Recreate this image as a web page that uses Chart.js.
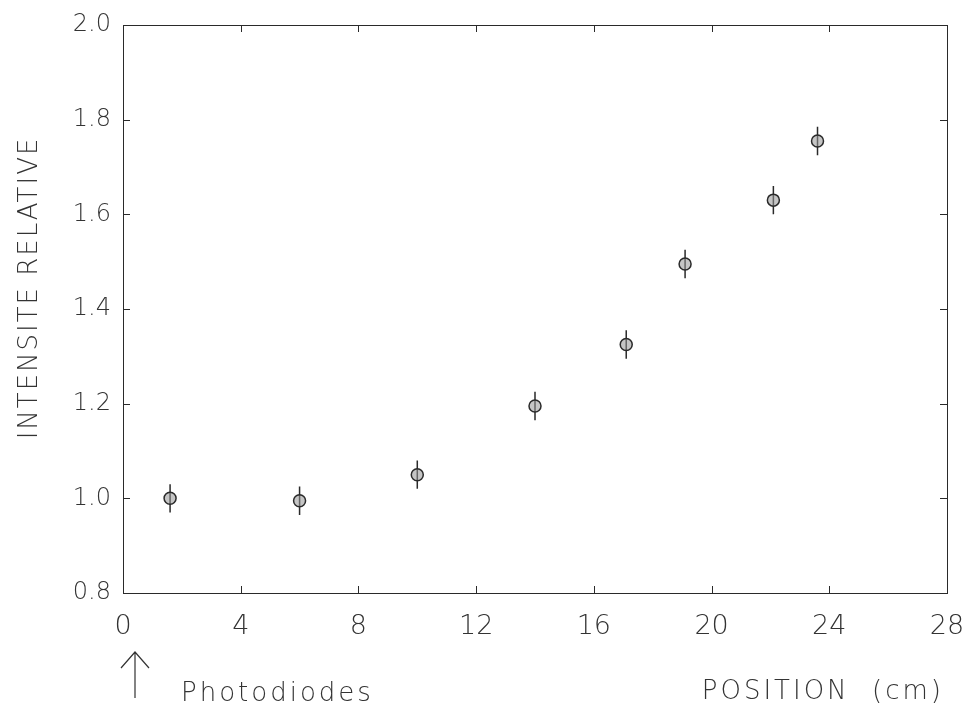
<!DOCTYPE html>
<html>
<head>
<meta charset="utf-8">
<script src="https://cdn.jsdelivr.net/npm/chart.js@4.4.1/dist/chart.umd.min.js"></script>
<style>
html,body{margin:0;padding:0;background:#fff;}
#wrap{width:969px;height:720px;position:relative;}
</style>
</head>
<body>
<div id="wrap"><canvas id="c" width="969" height="720"></canvas></div>
<script>
// Data
const positions = [1.6, 6.0, 10.0, 14.0, 17.1, 19.1, 22.1, 23.6];
const intensities = [1.0, 0.995, 1.05, 1.195, 1.325, 1.495, 1.63, 1.755];
const errors = [0.03, 0.03, 0.03, 0.03, 0.03, 0.03, 0.03, 0.03];
const xTicks = [0, 4, 8, 12, 16, 20, 24, 28];
const yTicks = [0.8, 1.0, 1.2, 1.4, 1.6, 1.8, 2.0];
const yTitle = 'INTENSITE RELATIVE';
const xTitle = 'POSITION  (cm)';
const noteText = 'Photodiodes';

const INK = '#2a2a2a';
const FONT = '"DejaVu Sans", sans-serif';

const framePlugin = {
  id: 'frame',
  beforeDatasetsDraw(chart) {
    const {ctx, chartArea: a, scales: {x, y}} = chart;
    ctx.save();
    ctx.strokeStyle = INK;
    ctx.lineWidth = 1;
    ctx.strokeRect(a.left + 0.5, a.top + 0.5, a.right - a.left, a.bottom - a.top);
    const L = 7;
    ctx.beginPath();
    xTicks.forEach(v => {
      const px = Math.round(x.getPixelForValue(v)) + 0.5;
      ctx.moveTo(px, a.bottom); ctx.lineTo(px, a.bottom - L);
      ctx.moveTo(px, a.top); ctx.lineTo(px, a.top + L);
    });
    yTicks.forEach(v => {
      const py = Math.round(y.getPixelForValue(v)) + 0.5;
      ctx.moveTo(a.left, py); ctx.lineTo(a.left + L, py);
      ctx.moveTo(a.right, py); ctx.lineTo(a.right - L, py);
    });
    ctx.stroke();
    // error bars
    ctx.lineWidth = 1.5;
    ctx.beginPath();
    positions.forEach((p, i) => {
      const px = x.getPixelForValue(p);
      ctx.moveTo(px, y.getPixelForValue(intensities[i] - errors[i]));
      ctx.lineTo(px, y.getPixelForValue(intensities[i] + errors[i]));
    });
    ctx.stroke();
    ctx.restore();
  },
  afterDraw(chart) {
    const {ctx, scales: {x}} = chart;
    ctx.save();
    ctx.fillStyle = '#333';
    ctx.font = '200 26px ' + FONT;
    ctx.letterSpacing = '2px';
    ctx.textBaseline = 'middle';
    // y title
    ctx.save();
    ctx.translate(30, 288);
    ctx.rotate(-Math.PI / 2);
    ctx.textAlign = 'center';
    ctx.fillText(yTitle, 0, 0);
    ctx.restore();
    // x title and note
    ctx.font = '200 26px ' + FONT;
    ctx.letterSpacing = '3px';
    ctx.textAlign = 'right';
    ctx.fillText(xTitle, 944, 692);
    ctx.textAlign = 'left';
    ctx.fillText(noteText, 181, 694);
    // arrow pointing to the photodiodes at x = 0
    const ax = x.getPixelForValue(0) + 12;
    ctx.strokeStyle = '#333';
    ctx.lineWidth = 1.2;
    ctx.beginPath();
    ctx.moveTo(ax, 698); ctx.lineTo(ax, 652);
    ctx.moveTo(ax - 14, 668); ctx.lineTo(ax, 652); ctx.lineTo(ax + 14, 668);
    ctx.stroke();
    ctx.restore();
  }
};

new Chart(document.getElementById('c'), {
  type: 'scatter',
  data: {
    datasets: [{
      data: positions.map((p, i) => ({x: p, y: intensities[i]})),
      pointRadius: 6,
      pointBorderWidth: 1.5,
      borderColor: INK,
      backgroundColor: 'rgba(150,150,150,0.55)',
      pointStyle: 'circle'
    }]
  },
  plugins: [framePlugin],
  options: {
    responsive: false,
    animation: false,
    devicePixelRatio: 1,
    layout: {padding: {top: 25, right: 22, left: 0, bottom: 0}},
    plugins: {legend: {display: false}, tooltip: {enabled: false}},
    scales: {
      x: {
        type: 'linear',
        min: 0, max: 28,
        afterBuildTicks: s => { s.ticks = xTicks.map(v => ({value: v})); },
        afterFit: s => { s.height = 127; s.paddingRight = 0; s.paddingLeft = 0; },
        grid: {display: false, drawTicks: false},
        border: {display: false},
        ticks: {
          color: '#333',
          padding: 18,
          font: {family: FONT, size: 27, weight: 200},
          callback: v => String(v),
          maxRotation: 0
        }
      },
      y: {
        type: 'linear',
        min: 0.8, max: 2.0,
        afterBuildTicks: s => { s.ticks = yTicks.map(v => ({value: v})); },
        afterFit: s => { s.width = 123; s.paddingTop = 0; s.paddingBottom = 0; },
        grid: {display: false, drawTicks: false},
        border: {display: false},
        ticks: {
          color: '#333',
          padding: 12,
          font: {family: FONT, size: 24, weight: 200},
          callback: v => Number(v).toFixed(1)
        }
      }
    }
  }
});
</script>
</body>
</html>
